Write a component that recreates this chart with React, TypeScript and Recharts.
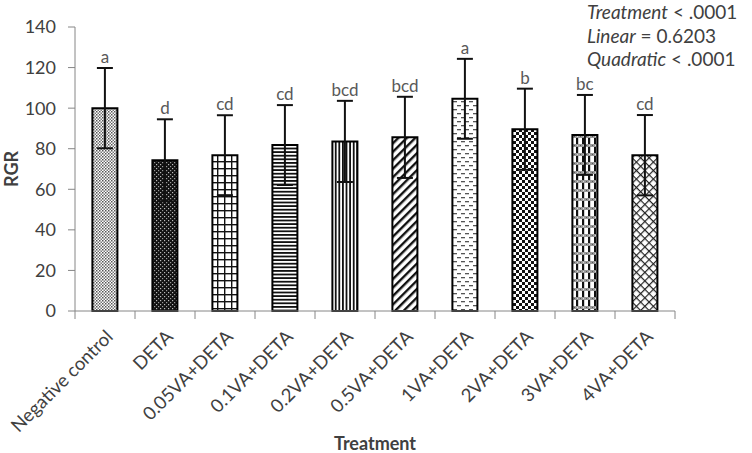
import React from 'react';
import { BarChart, Bar, XAxis, YAxis, Cell, ErrorBar, LabelList } from 'recharts';

const categories = [
  'Negative control', 'DETA', '0.05VA+DETA', '0.1VA+DETA', '0.2VA+DETA',
  '0.5VA+DETA', '1VA+DETA', '2VA+DETA', '3VA+DETA', '4VA+DETA',
];
const rgrValues = [100, 74.3, 76.8, 81.8, 83.6, 85.6, 104.6, 89.6, 86.8, 76.8];
const rgrErrors = [19.8, 20.2, 19.7, 19.7, 20, 20, 19.7, 20, 19.7, 19.8];
const letters = ['a', 'd', 'cd', 'cd', 'bcd', 'bcd', 'a', 'b', 'bc', 'cd'];
const yTicks = [0, 20, 40, 60, 80, 100, 120, 140];

const data = categories.map((name, i) => ({
  name,
  rgr: rgrValues[i],
  err: rgrErrors[i],
  letter: letters[i],
}));

const FONT = 'Lato, "Liberation Sans", sans-serif';
const AXIS = '#868686';
const TEXT = '#404040';

const XTick = (props: any) => {
  const { x, y, payload, index } = props;
  const off = payload && payload.offset ? payload.offset : 30;
  return (
    <g>
      <line x1={x - off} x2={x - off} y1={y} y2={y + 8} stroke={AXIS} strokeWidth={1} />
      {index === categories.length - 1 && (
        <line x1={x + off} x2={x + off} y1={y} y2={y + 8} stroke={AXIS} strokeWidth={1} />
      )}
      <text
        transform={`translate(${x + 9},${y + 27}) rotate(-45)`}
        textAnchor="end"
        fontSize={18.5}
        fontFamily={FONT}
        fill={TEXT}
      >
        {payload.value}
      </text>
    </g>
  );
};

const LetterLabel = (props: any) => {
  const { x, y, width, height, index } = props;
  const v = rgrValues[index];
  const e = rgrErrors[index];
  const perUnit = height / v;
  const top = y - e * perUnit;
  return (
    <text
      x={x + width / 2}
      y={top - 5}
      textAnchor="middle"
      fontSize={17}
      fontFamily={FONT}
      fill="#595959"
    >
      {letters[index]}
    </text>
  );
};

export default function App() {
  return (
    <div style={{ position: 'absolute', left: 0, top: 0, width: 752, height: 453, background: '#fff', fontFamily: FONT }}>
      <BarChart
        width={752}
        height={453}
        data={data}
        margin={{ top: 27, right: 77, bottom: 0, left: 0 }}
        barCategoryGap="29%"
      >
        <defs>
          <pattern id="p0" patternUnits="userSpaceOnUse" width="3" height="3">
            <rect width="3" height="3" fill="#fff" />
            <rect x="0" y="0" width="1.5" height="1.5" fill="#555" />
            <rect x="1.5" y="1.5" width="1.5" height="1.5" fill="#777" />
          </pattern>
          <pattern id="p1" patternUnits="userSpaceOnUse" width="4" height="4">
            <rect width="4" height="4" fill="#111" />
            <rect x="0" y="0" width="1.2" height="1.2" fill="#bbb" />
            <rect x="2" y="2" width="1.2" height="1.2" fill="#999" />
          </pattern>
          <pattern id="p2" patternUnits="userSpaceOnUse" width="7" height="7">
            <rect width="7" height="7" fill="#fff" />
            <rect x="0" y="0" width="1.4" height="7" fill="#111" />
            <rect x="0" y="0" width="7" height="1.4" fill="#111" />
          </pattern>
          <pattern id="p3" patternUnits="userSpaceOnUse" width="4" height="3.6">
            <rect width="4" height="3.6" fill="#fff" />
            <rect x="0" y="0" width="4" height="1.8" fill="#111" />
          </pattern>
          <pattern id="p4" patternUnits="userSpaceOnUse" width="3.6" height="4">
            <rect width="3.6" height="4" fill="#fff" />
            <rect x="0" y="0" width="1.8" height="4" fill="#111" />
          </pattern>
          <pattern id="p5" patternUnits="userSpaceOnUse" width="6" height="6" patternTransform="rotate(45)">
            <rect width="6" height="6" fill="#fff" />
            <rect x="0" y="0" width="2.4" height="6" fill="#111" />
          </pattern>
          <pattern id="p6" patternUnits="userSpaceOnUse" width="8" height="8">
            <rect width="8" height="8" fill="#fff" />
            <rect x="1" y="1" width="4" height="1.3" fill="#555" />
            <rect x="5" y="5" width="4" height="1.3" fill="#555" />
            <rect x="-3" y="5" width="4" height="1.3" fill="#555" />
          </pattern>
          <pattern id="p7" patternUnits="userSpaceOnUse" width="6" height="6">
            <rect width="6" height="6" fill="#fff" />
            <rect x="0" y="0" width="3" height="3" fill="#111" />
            <rect x="3" y="3" width="3" height="3" fill="#111" />
          </pattern>
          <pattern id="p8" patternUnits="userSpaceOnUse" width="6" height="9">
            <rect width="6" height="9" fill="#fff" />
            <rect x="0" y="0" width="2.2" height="9" fill="#111" />
            <rect x="0" y="0" width="6" height="3" fill="#999" />
            <rect x="1" y="1" width="1" height="1" fill="#ddd" />
            <rect x="4" y="1" width="1" height="1" fill="#555" />
          </pattern>
          <pattern id="p9" patternUnits="userSpaceOnUse" width="6" height="6" patternTransform="rotate(45)">
            <rect width="6" height="6" fill="#fff" />
            <rect x="0" y="0" width="1.2" height="6" fill="#222" />
            <rect x="0" y="0" width="6" height="1.2" fill="#222" />
          </pattern>
        </defs>
        <XAxis
          dataKey="name"
          type="category"
          height={142}
          stroke={AXIS}
          tickLine={false}
          tickSize={0}
          tickMargin={0}
          interval={0}
          tick={<XTick />}
          label={{
            content: (p: any) => {
              const vb = p.viewBox || { x: 75, width: 600 };
              return (
                <text
                  x={vb.x + vb.width / 2}
                  y={450}
                  textAnchor="middle"
                  fontSize={18}
                  fontWeight="bold"
                  fontFamily={FONT}
                  fill={TEXT}
                >
                  Treatment
                </text>
              );
            },
          }}
        />
        <YAxis
          width={75}
          domain={[0, 140]}
          ticks={yTicks}
          interval={0}
          stroke={AXIS}
          tickSize={7}
          tickMargin={12}
          tick={{ fontSize: 18, fontFamily: FONT, fill: TEXT }}
          label={{
            content: (p: any) => {
              const vb = p.viewBox || { y: 27, height: 284 };
              const cy = vb.y + vb.height / 2;
              return (
                <text
                  x={11}
                  y={cy}
                  transform={`rotate(-90, 11, ${cy})`}
                  textAnchor="middle"
                  dominantBaseline="central"
                  fontSize={18}
                  fontWeight="bold"
                  fontFamily={FONT}
                  fill={TEXT}
                >
                  RGR
                </text>
              );
            },
          }}
        />
        <Bar dataKey="rgr" stroke="#000" strokeWidth={2} isAnimationActive={false}>
          {data.map((d, i) => (
            <Cell key={d.name} fill={`url(#p${i})`} />
          ))}
          <ErrorBar dataKey="err" direction="y" width={8} stroke="#111" strokeWidth={2} />
          <LabelList dataKey="letter" content={<LetterLabel />} />
        </Bar>
      </BarChart>
      <div
        style={{
          position: 'absolute',
          left: 587,
          top: 0,
          fontSize: 19,
          lineHeight: '23.5px',
          color: TEXT,
          whiteSpace: 'nowrap',
          fontFamily: FONT,
        }}
      >
        <div><i>Treatment</i> &lt; .0001</div>
        <div><i>Linear</i> = 0.6203</div>
        <div><i>Quadratic</i> &lt; .0001</div>
      </div>
    </div>
  );
}
